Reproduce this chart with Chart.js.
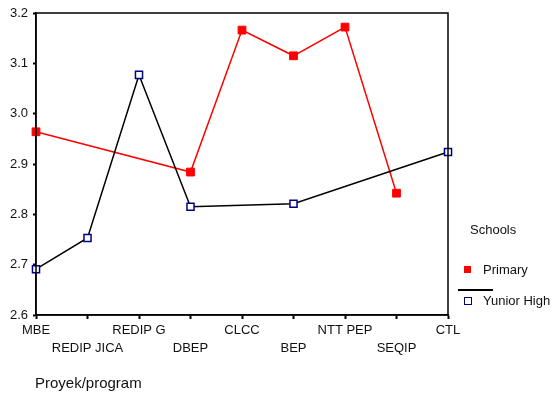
<!DOCTYPE html>
<html>
<head>
<meta charset="utf-8">
<script src="https://cdn.jsdelivr.net/npm/chart.js@4/dist/chart.umd.min.js"></script>
<style>
    body { margin: 0; background: #fff; font-family: Arial, "Liberation Sans", sans-serif; }
    #wrap { position: relative; width: 552px; height: 395px; }
    .txt { position: absolute; color: #111; white-space: nowrap; }
    .sq { position: absolute; width: 6px; height: 6px; }
</style>
</head>
<body>
<div id="wrap">
    <canvas id="chart" width="552" height="395"></canvas>
    <div class="txt" style="left:470px; top:222px; font-size:13px;">Schools</div>
    <div class="sq" style="left:464px; top:266px; background:#ff0000; width:7px; height:7px;"></div>
    <div class="txt" style="left:483px; top:262px; font-size:13px;">Primary</div>
    <div style="position:absolute; left:458px; top:289px; width:35px; height:1.5px; background:#000;"></div>
    <div class="sq" style="left:464px; top:297px; border:1.5px solid #000080; background:#fff;"></div>
    <div class="txt" style="left:483px; top:293px; font-size:13px;">Yunior High</div>
    <div class="txt" style="left:35px; top:374px; font-size:15px;">Proyek/program</div>
</div>
<script>
const programs = ['MBE', 'REDIP JICA', 'REDIP G', 'DBEP', 'CLCC', 'BEP', 'NTT PEP', 'SEQIP', 'CTL'];
const primary = [2.964, null, null, 2.884, 3.166, 3.115, 3.172, 2.842, null];
const yuniorHigh = [2.691, 2.753, 3.077, 2.815, null, 2.821, null, null, 2.924];
const yTicks = [2.6, 2.7, 2.8, 2.9, 3.0, 3.1, 3.2];

// staggered labels: every second one goes to the lower row
const labels = programs.map((p, i) => i % 2 === 1 ? ['', p] : p);

const frame = {
    id: 'frame',
    afterDraw(chart) {
        const a = chart.chartArea;
        const ctx = chart.ctx;
        ctx.save();
        ctx.strokeStyle = '#000';
        ctx.lineWidth = 1.5;
        ctx.strokeRect(a.left, a.top, a.right - a.left, a.bottom - a.top);
        ctx.restore();
    }
};

new Chart(document.getElementById('chart'), {
    type: 'line',
    data: {
        labels: labels,
        datasets: [{
            label: 'Yunior High',
            data: yuniorHigh,
            borderColor: '#000',
            borderWidth: 1.5,
            pointStyle: 'rect',
            pointRadius: 5,
            pointBorderColor: '#000080',
            pointBackgroundColor: '#fff',
            pointBorderWidth: 1.5,
            spanGaps: true,
            tension: 0
        }, {
            label: 'Primary',
            data: primary,
            borderColor: '#ff0000',
            borderWidth: 1.5,
            pointStyle: 'rect',
            pointRadius: 5.5,
            pointBorderColor: '#ff0000',
            pointBackgroundColor: '#ff0000',
            pointBorderWidth: 1,
            spanGaps: true,
            tension: 0
        }]
    },
    options: {
        responsive: false,
        animation: false,
        layout: { padding: { top: 13, right: 104, left: 0, bottom: 0 } },
        plugins: { legend: { display: false }, tooltip: { enabled: false } },
        scales: {
            x: {
                offset: false,
                afterFit: s => { s.height = 80; },
                grid: { drawOnChartArea: false, tickLength: 4, color: '#000', tickWidth: 2 },
                border: { color: '#000', width: 1.5 },
                ticks: {
                    color: '#111',
                    font: { family: 'Arial, "Liberation Sans", sans-serif', size: 13, lineHeight: 1.4 },
                    padding: 2,
                    maxRotation: 0,
                    autoSkip: false
                }
            },
            y: {
                min: 2.6,
                max: 3.2,
                afterFit: s => { s.width = 36; },
                afterBuildTicks: s => { s.ticks = yTicks.map(v => ({ value: v })); },
                grid: { drawOnChartArea: false, tickLength: 3, color: '#000', tickWidth: 2 },
                border: { color: '#000', width: 1.5 },
                ticks: {
                    color: '#111',
                    font: { family: 'Arial, "Liberation Sans", sans-serif', size: 13 },
                    padding: 5,
                    callback: v => v.toFixed(1)
                }
            }
        }
    },
    plugins: [frame]
});
</script>
</body>
</html>
